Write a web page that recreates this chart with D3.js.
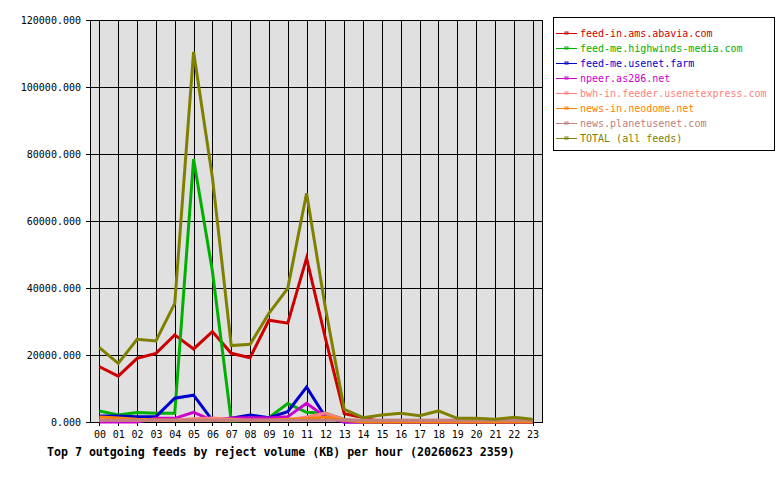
<!DOCTYPE html>
<html lang="en">
  <head>
    <meta charset="UTF-8" />
    <title>Top 7 outgoing feeds by reject volume</title>
    <style>
      body { margin: 0; background: #fff; }
      text { font-family: "DejaVu Sans Mono", monospace; }
    </style>
  </head>
  <body>
    <script src="https://cdn.jsdelivr.net/npm/d3@7"></script>
    <script>
      var hours = ["00","01","02","03","04","05","06","07","08","09","10","11",
                   "12","13","14","15","16","17","18","19","20","21","22","23"];

      var feedNames = ["feed-in.ams.abavia.com", "feed-me.highwinds-media.com",
                       "feed-me.usenet.farm", "npeer.as286.net",
                       "bwh-in.feeder.usenetexpress.com", "news-in.neodome.net",
                       "news.planetusenet.com", "TOTAL (all feeds)"];

      var feedColors = ["#cc0000", "#00b000", "#0000cc", "#cc00cc",
                        "#ff8080", "#ff8000", "#c08080", "#808000"];

      // KB per hour
      var abavia     = [16500, 13700, 19000, 20500, 26000, 21800, 27000, 20500, 19200, 30400, 29500, 48900,
                        25000, 2500, 1300, 0, 0, 0, 0, 0, 0, 0, 0, 0];
      var highwinds  = [3300, 2100, 2800, 2600, 2600, 78500, 45000, 300, 500, 1300, 5500, 2900,
                        2600, 800, 0, 0, 0, 0, 0, 0, 0, 0, 0, 0];
      var usenetFarm = [1800, 1800, 1600, 1600, 7100, 8000, 500, 1100, 2100, 1300, 3100, 10400,
                        1500, 0, 0, 0, 0, 0, 0, 0, 0, 0, 0, 0];
      var as286      = [0, 0, 0, 1100, 1100, 2900, 500, 1200, 1300, 1200, 1600, 5600,
                        1500, 0, 0, 0, 0, 0, 0, 0, 0, 0, 0, 0];
      var usenetExpress = [500, 500, 500, 500, 500, 1000, 1200, 800, 500, 500, 600, 1500,
                           2700, 700, 500, 500, 500, 500, 500, 500, 500, 500, 500, 500];
      var neodome    = [1500, 1200, 800, 600, 500, 500, 500, 500, 500, 500, 800, 1000,
                        1500, 500, 0, 0, 0, 0, 0, 0, 0, 0, 0, 0];
      var planetusenet = [500, 500, 500, 500, 500, 500, 500, 500, 500, 500, 500, 500,
                          500, 500, 500, 500, 500, 500, 500, 500, 500, 500, 500, 500];
      var total      = [22200, 17500, 24700, 24200, 35400, 110500, 73000, 22800, 23200, 32400, 39900, 68300,
                        34000, 3800, 1300, 2100, 2600, 1900, 3300, 1100, 1100, 800, 1400, 800];

      var yTicks = [0, 20000, 40000, 60000, 80000, 100000, 120000];

      var series = [abavia, highwinds, usenetFarm, as286, usenetExpress, neodome, planetusenet, total];

      var w = 780,
          h = 480;

      var plot = { left: 90, right: 542, top: 20, bottom: 422 };

      var svg = d3.select("body").append("svg")
        .attr("width", w)
        .attr("height", h);

      var xScale = d3.scalePoint()
        .domain(hours)
        .range([plot.left, plot.right])
        .padding(0.5);

      var yScale = d3.scaleLinear()
        .domain([0, 120000])
        .range([plot.bottom, plot.top]);

      svg.append("rect")
        .attr("x", plot.left)
        .attr("y", plot.top)
        .attr("width", plot.right - plot.left)
        .attr("height", plot.bottom - plot.top)
        .attr("fill", "#e0e0e0");

      // grid
      svg.append("g")
        .selectAll("line")
        .data(hours)
        .enter()
        .append("line")
        .attr("x1", function(d) { return Math.round(xScale(d)) + 0.5; })
        .attr("x2", function(d) { return Math.round(xScale(d)) + 0.5; })
        .attr("y1", plot.top)
        .attr("y2", plot.bottom + 4)
        .attr("stroke", "black");

      svg.append("g")
        .selectAll("line")
        .data(yTicks)
        .enter()
        .append("line")
        .attr("x1", plot.left - 4)
        .attr("x2", plot.right)
        .attr("y1", function(d) { return Math.round(yScale(d)) + 0.5; })
        .attr("y2", function(d) { return Math.round(yScale(d)) + 0.5; })
        .attr("stroke", "black");

      svg.append("rect")
        .attr("x", plot.left + 0.5)
        .attr("y", plot.top + 0.5)
        .attr("width", plot.right - plot.left)
        .attr("height", plot.bottom - plot.top)
        .attr("fill", "none")
        .attr("stroke", "black");

      // axis labels
      var xAxis = d3.axisBottom(xScale).tickSize(0).tickPadding(9);
      var gx = svg.append("g")
        .attr("transform", "translate(0," + plot.bottom + ")")
        .call(xAxis);
      gx.select(".domain").remove();
      gx.selectAll("text").attr("font-size", 10).attr("fill", "black")
        .style("font-family", "'DejaVu Sans Mono', monospace");

      var yAxis = d3.axisLeft(yScale)
        .tickValues(yTicks)
        .tickSize(0)
        .tickPadding(9)
        .tickFormat(d3.format(".3f"));
      var gy = svg.append("g")
        .attr("transform", "translate(" + plot.left + ",0)")
        .call(yAxis);
      gy.select(".domain").remove();
      gy.selectAll("text").attr("font-size", 10).attr("fill", "black")
        .style("font-family", "'DejaVu Sans Mono', monospace");

      var line = d3.line()
        .x(function(d, i) { return xScale(hours[i]); })
        .y(function(d) { return yScale(d); });

      svg.append("g")
        .selectAll("path")
        .data(series)
        .enter()
        .append("path")
        .attr("d", line)
        .attr("fill", "none")
        .attr("stroke", function(d, i) { return feedColors[i]; })
        .attr("stroke-width", 3)
        .attr("stroke-linejoin", "miter");

      // legend
      var legend = svg.append("g");

      legend.append("rect")
        .attr("x", 553.5)
        .attr("y", 17.5)
        .attr("width", 221)
        .attr("height", 133)
        .attr("fill", "white")
        .attr("stroke", "black");

      var items = legend.selectAll("g.item")
        .data(feedNames)
        .enter()
        .append("g")
        .attr("class", "item")
        .attr("transform", function(d, i) { return "translate(0," + (33 + i * 15) + ")"; });

      items.append("line")
        .attr("x1", 556)
        .attr("x2", 577)
        .attr("y1", 0.5)
        .attr("y2", 0.5)
        .attr("stroke", function(d, i) { return feedColors[i]; });

      items.append("rect")
        .attr("x", 565)
        .attr("y", -1)
        .attr("width", 3)
        .attr("height", 2)
        .attr("fill", "none")
        .attr("stroke", function(d, i) { return feedColors[i]; })
        .attr("stroke-width", 1);

      items.append("text")
        .attr("x", 580)
        .attr("y", 4)
        .attr("font-size", 10)
        .attr("fill", function(d, i) { return feedColors[i]; })
        .text(function(d) { return d; });

      svg.append("text")
        .attr("x", 47)
        .attr("y", 456)
        .attr("font-size", 11.6)
        .attr("font-weight", "bold")
        .attr("fill", "black")
        .text("Top 7 outgoing feeds by reject volume (KB) per hour (20260623 2359)");
    </script>
  </body>
</html>
